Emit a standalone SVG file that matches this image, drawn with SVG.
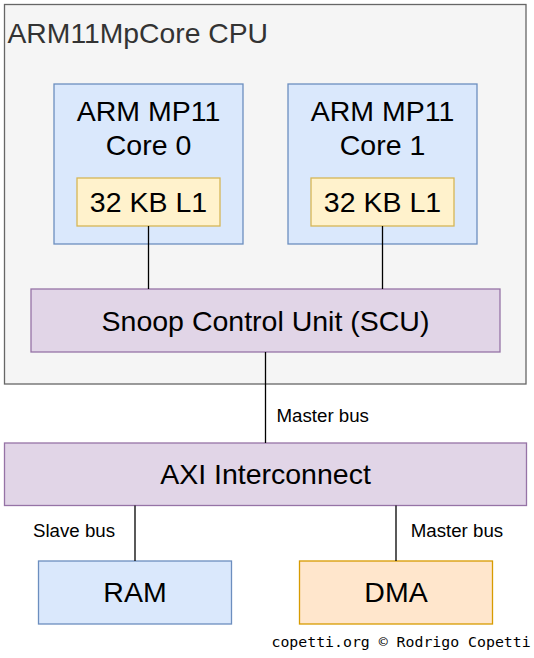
<svg xmlns="http://www.w3.org/2000/svg" width="534" height="658" viewBox="0 0 534 658">
<style>
.t{font-family:"Liberation Sans",Arial,Helvetica,sans-serif;fill:#000;}
.big{font-size:28.5px;text-anchor:middle;}
.lbl{font-size:18.7px;}
.conn line{stroke:#000;stroke-width:1.3;}
.blue{fill:#dae8fc;stroke:#6c8ebf;stroke-width:1.3;}
.yellow{fill:#fff2cc;stroke:#d6b656;stroke-width:1.3;}
.purple{fill:#e1d5e7;stroke:#9673a6;stroke-width:1.3;}
.orange{fill:#ffe6cc;stroke:#d79b00;stroke-width:1.3;}
</style>
<rect width="534" height="658" fill="#ffffff"/>
<g id="cpu">
<rect x="4.5" y="4.5" width="521.5" height="379.5" fill="#f5f5f5" stroke="#666666" stroke-width="1.3"/>
<text class="t" x="7.5" y="42.7" font-size="28.3px" style="fill:#333333">ARM11MpCore CPU</text>
</g>
<g id="core0">
<rect class="blue" x="54" y="84" width="189" height="160"/>
<text class="t big" x="148.5" y="121">ARM MP11</text>
<text class="t big" x="148.5" y="154.5">Core 0</text>
</g>
<g id="l1_0">
<rect class="yellow" x="77" y="178" width="143" height="48"/>
<text class="t big" x="148.5" y="212">32 KB L1</text>
</g>
<g id="core1">
<rect class="blue" x="288" y="84" width="189" height="160"/>
<text class="t big" x="382.5" y="121">ARM MP11</text>
<text class="t big" x="382.5" y="154.5">Core 1</text>
</g>
<g id="l1_1">
<rect class="yellow" x="311" y="178" width="143" height="48"/>
<text class="t big" x="382.5" y="212">32 KB L1</text>
</g>
<g id="scu">
<rect class="purple" x="31" y="289" width="469" height="63"/>
<text class="t big" x="265.5" y="330.5">Snoop Control Unit (SCU)</text>
</g>
<g id="axi">
<rect class="purple" x="4.5" y="443" width="522" height="62.5"/>
<text class="t big" x="265.5" y="484">AXI Interconnect</text>
</g>
<g id="ram">
<rect class="blue" x="38.5" y="561" width="193" height="63"/>
<text class="t big" x="135" y="602">RAM</text>
</g>
<g id="dma">
<rect class="orange" x="299.5" y="561" width="193" height="63"/>
<text class="t big" x="396" y="602">DMA</text>
</g>
<g id="connectors" class="conn">
<line x1="148.5" y1="226" x2="148.5" y2="289"/>
<line x1="382.5" y1="226" x2="382.5" y2="289"/>
<line x1="265.5" y1="352" x2="265.5" y2="443"/>
<line x1="135" y1="505.5" x2="135" y2="561"/>
<line x1="396" y1="505.5" x2="396" y2="561"/>
<text class="t lbl" x="276.5" y="421.5">Master bus</text>
<text class="t lbl" x="33" y="537.3">Slave bus</text>
<text class="t lbl" x="410.7" y="537.3">Master bus</text>
</g>
<text x="271.5" y="647.3" font-family="'DejaVu Sans Mono','Liberation Mono',monospace" font-size="14.85px" fill="#000">copetti.org © Rodrigo Copetti</text>
</svg>
